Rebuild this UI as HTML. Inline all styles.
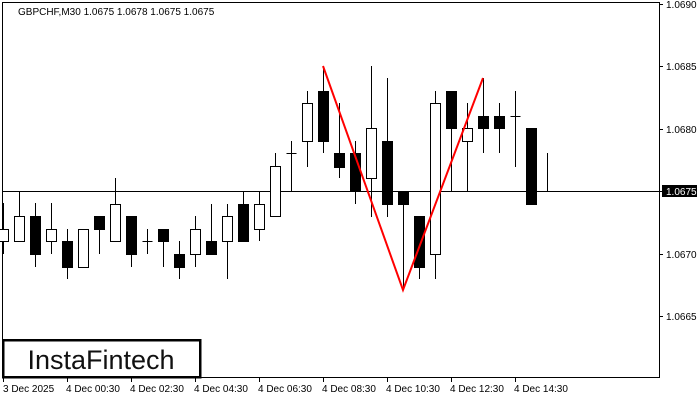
<!DOCTYPE html>
<html><head><style>
body{margin:0;background:#fff;}
svg text{font-family:"Liberation Sans",sans-serif;}
</style></head><body>
<svg width="700" height="400" xmlns="http://www.w3.org/2000/svg" shape-rendering="crispEdges">
<rect x="0" y="0" width="700" height="400" fill="#fff"/>
<rect x="2.5" y="2.5" width="657" height="375" fill="none" stroke="#000" stroke-width="1"/>
<text x="18" y="15" font-size="10">GBPCHF,M30  1.0675 1.0678 1.0675 1.0675</text>
<g font-size="10" fill="#000">
<line x1="659" y1="4.5" x2="663" y2="4.5" stroke="#000"/><text x="666" y="8">1.0690</text>
<line x1="659" y1="66.5" x2="663" y2="66.5" stroke="#000"/><text x="666" y="70">1.0685</text>
<line x1="659" y1="129.5" x2="663" y2="129.5" stroke="#000"/><text x="666" y="133">1.0680</text>
<line x1="659" y1="254.5" x2="663" y2="254.5" stroke="#000"/><text x="666" y="258">1.0670</text>
<line x1="659" y1="316.5" x2="663" y2="316.5" stroke="#000"/><text x="666" y="320">1.0665</text>
</g>
<rect x="662" y="185" width="35" height="12" fill="#000"/>
<text x="666" y="195" font-size="10" fill="#fff">1.0675</text>
<line x1="3" y1="191.5" x2="662" y2="191.5" stroke="#000"/>
<g font-size="10" fill="#000">
<line x1="3.5" y1="378" x2="3.5" y2="382" stroke="#000"/><text x="3" y="392">3 Dec 2025</text>
<line x1="67.5" y1="378" x2="67.5" y2="382" stroke="#000"/><text x="66" y="392">4 Dec 00:30</text>
<line x1="131.5" y1="378" x2="131.5" y2="382" stroke="#000"/><text x="130" y="392">4 Dec 02:30</text>
<line x1="195.5" y1="378" x2="195.5" y2="382" stroke="#000"/><text x="194" y="392">4 Dec 04:30</text>
<line x1="259.5" y1="378" x2="259.5" y2="382" stroke="#000"/><text x="258" y="392">4 Dec 06:30</text>
<line x1="323.5" y1="378" x2="323.5" y2="382" stroke="#000"/><text x="322" y="392">4 Dec 08:30</text>
<line x1="387.5" y1="378" x2="387.5" y2="382" stroke="#000"/><text x="386" y="392">4 Dec 10:30</text>
<line x1="451.5" y1="378" x2="451.5" y2="382" stroke="#000"/><text x="450" y="392">4 Dec 12:30</text>
<line x1="515.5" y1="378" x2="515.5" y2="382" stroke="#000"/><text x="514" y="392">4 Dec 14:30</text>
</g>
<g stroke="#000" stroke-width="1">
<line x1="3.5" y1="203" x2="3.5" y2="254"/><rect x="-1.5" y="229.5" width="10" height="12" fill="#fff"/>
<line x1="19.5" y1="191" x2="19.5" y2="241"/><rect x="14.5" y="216.5" width="10" height="25" fill="#fff"/>
<line x1="35.5" y1="203" x2="35.5" y2="267"/><rect x="30.5" y="216.5" width="10" height="38" fill="#000"/>
<line x1="51.5" y1="203" x2="51.5" y2="254"/><rect x="46.5" y="229.5" width="10" height="12" fill="#fff"/>
<line x1="67.5" y1="229" x2="67.5" y2="279"/><rect x="62.5" y="241.5" width="10" height="26" fill="#000"/>
<rect x="78.5" y="229.5" width="10" height="38" fill="#fff"/>
<line x1="99.5" y1="216" x2="99.5" y2="254"/><rect x="94.5" y="216.5" width="10" height="13" fill="#000"/>
<line x1="115.5" y1="178" x2="115.5" y2="241"/><rect x="110.5" y="204.5" width="10" height="37" fill="#fff"/>
<line x1="131.5" y1="216" x2="131.5" y2="267"/><rect x="126.5" y="216.5" width="10" height="38" fill="#000"/>
<line x1="147.5" y1="229" x2="147.5" y2="254"/><line x1="142.5" y1="241.5" x2="152.5" y2="241.5"/>
<line x1="163.5" y1="229" x2="163.5" y2="267"/><rect x="158.5" y="229.5" width="10" height="12" fill="#000"/>
<line x1="179.5" y1="241" x2="179.5" y2="279"/><rect x="174.5" y="254.5" width="10" height="13" fill="#000"/>
<line x1="195.5" y1="216" x2="195.5" y2="267"/><rect x="190.5" y="229.5" width="10" height="25" fill="#fff"/>
<line x1="211.5" y1="204" x2="211.5" y2="254"/><rect x="206.5" y="241.5" width="10" height="13" fill="#000"/>
<line x1="227.5" y1="204" x2="227.5" y2="279"/><rect x="222.5" y="216.5" width="10" height="25" fill="#fff"/>
<line x1="243.5" y1="191" x2="243.5" y2="241"/><rect x="238.5" y="204.5" width="10" height="37" fill="#000"/>
<line x1="259.5" y1="191" x2="259.5" y2="241"/><rect x="254.5" y="204.5" width="10" height="25" fill="#fff"/>
<line x1="275.5" y1="153" x2="275.5" y2="216"/><rect x="270.5" y="166.5" width="10" height="50" fill="#fff"/>
<line x1="291.5" y1="141" x2="291.5" y2="191"/><line x1="286.5" y1="153.5" x2="296.5" y2="153.5"/>
<line x1="307.5" y1="91" x2="307.5" y2="167"/><rect x="302.5" y="103.5" width="10" height="38" fill="#fff"/>
<line x1="323.5" y1="66" x2="323.5" y2="153"/><rect x="318.5" y="91.5" width="10" height="50" fill="#000"/>
<line x1="339.5" y1="103" x2="339.5" y2="178"/><rect x="334.5" y="153.5" width="10" height="14" fill="#000"/>
<line x1="355.5" y1="141" x2="355.5" y2="204"/><rect x="350.5" y="153.5" width="10" height="38" fill="#000"/>
<line x1="371.5" y1="66" x2="371.5" y2="217"/><rect x="366.5" y="128.5" width="10" height="50" fill="#fff"/>
<line x1="387.5" y1="78" x2="387.5" y2="217"/><rect x="382.5" y="141.5" width="10" height="63" fill="#000"/>
<line x1="403.5" y1="191" x2="403.5" y2="290"/><rect x="398.5" y="191.5" width="10" height="13" fill="#000"/>
<line x1="419.5" y1="216" x2="419.5" y2="279"/><rect x="414.5" y="216.5" width="10" height="51" fill="#000"/>
<line x1="435.5" y1="91" x2="435.5" y2="279"/><rect x="430.5" y="103.5" width="10" height="151" fill="#fff"/>
<line x1="451.5" y1="91" x2="451.5" y2="191"/><rect x="446.5" y="91.5" width="10" height="37" fill="#000"/>
<line x1="467.5" y1="103" x2="467.5" y2="191"/><rect x="462.5" y="128.5" width="10" height="13" fill="#fff"/>
<line x1="483.5" y1="78" x2="483.5" y2="153"/><rect x="478.5" y="116.5" width="10" height="12" fill="#000"/>
<line x1="499.5" y1="103" x2="499.5" y2="153"/><rect x="494.5" y="116.5" width="10" height="12" fill="#000"/>
<line x1="515.5" y1="91" x2="515.5" y2="167"/><line x1="510.5" y1="116.5" x2="520.5" y2="116.5"/>
<rect x="526.5" y="128.5" width="10" height="76" fill="#000"/>
<line x1="547.5" y1="153" x2="547.5" y2="191"/>
</g>
<rect x="3" y="340" width="197" height="37" fill="#fff" stroke="#000" stroke-width="2.5"/>
<text x="101" y="369" font-size="27" text-anchor="middle" fill="#111">InstaFintech</text>
<polyline points="323,66 403,290 483,78" fill="none" stroke="#f00" stroke-width="2" shape-rendering="auto"/>
</svg>
</body></html>
